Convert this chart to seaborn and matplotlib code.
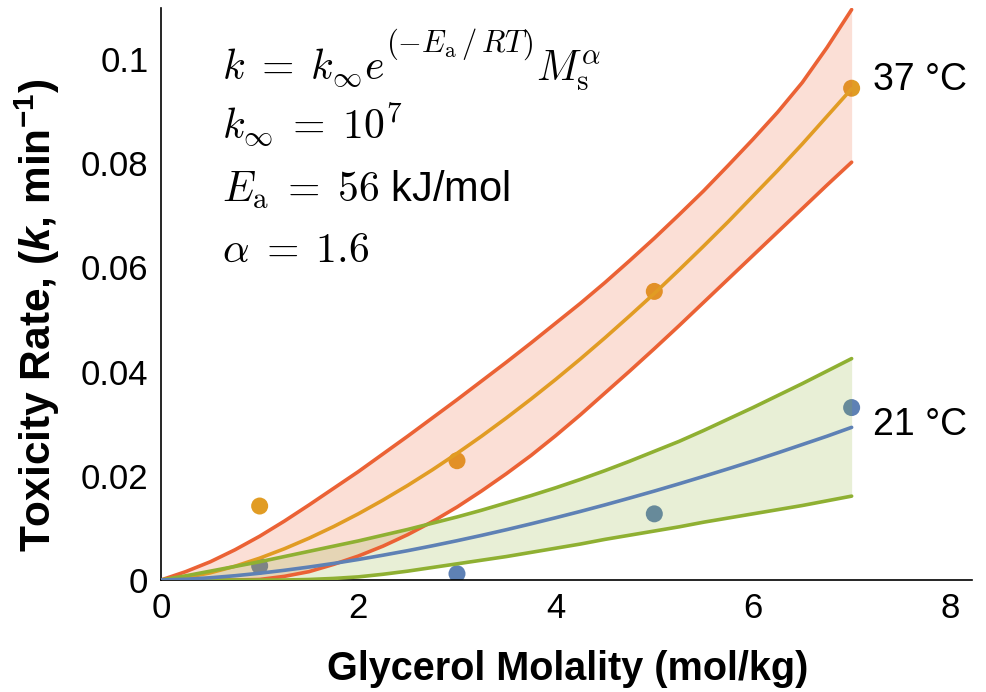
import matplotlib
matplotlib.use('Agg')
import matplotlib.pyplot as plt
import seaborn as sns

# molality grid used for the fitted curves and bands
molality = [0, 0.25, 0.5, 0.75, 1, 1.25, 1.5, 1.75, 2, 2.25, 2.5, 2.75, 3, 3.25, 3.5,
            3.75, 4, 4.25, 4.5, 4.75, 5, 5.25, 5.5, 5.75, 6, 6.25, 6.5, 6.75, 7]

# 37 C fit and band
fit_37 = [0, 0.00046, 0.00138, 0.00264, 0.00419, 0.00599, 0.00802, 0.01026, 0.0127, 0.01534, 0.01815, 0.02114, 0.0243, 0.02762, 0.0311,
          0.03473, 0.0385, 0.04242, 0.04649, 0.0507, 0.0550, 0.0595, 0.0641, 0.0688, 0.0737, 0.0786, 0.0837, 0.0890, 0.0943]
upper_37 = [0, 0.0016, 0.0035, 0.0058, 0.0084, 0.0113, 0.0144, 0.0176, 0.0208, 0.0242, 0.0276, 0.0311, 0.0346, 0.0382, 0.0418,
            0.0455, 0.0493, 0.0531, 0.0571, 0.0613, 0.0656, 0.0701, 0.0747, 0.0796, 0.0846, 0.0898, 0.0955, 0.1022, 0.1095]
lower_37 = [0, 0, 0, 0, 0.0001, 0.0007, 0.0016, 0.0030, 0.0046, 0.0065, 0.0087, 0.0112, 0.0140, 0.0171, 0.0204,
            0.0239, 0.0277, 0.0317, 0.0359, 0.0401, 0.0444, 0.0488, 0.0533, 0.0578, 0.0623, 0.0668, 0.0713, 0.0758, 0.0802]

# 21 C fit and band
fit_21 = [0, 0.00014, 0.00043, 0.00082, 0.0013, 0.00186, 0.00249, 0.00318, 0.00394, 0.00476, 0.00563, 0.00656, 0.00754, 0.00857, 0.00965,
          0.01078, 0.01195, 0.01316, 0.01442, 0.01573, 0.01707, 0.01846, 0.01989, 0.02135, 0.02285, 0.0244, 0.0260, 0.0276, 0.0293]
upper_21 = [0, 0.0008, 0.0017, 0.0026, 0.0035, 0.0045, 0.0055, 0.0065, 0.0075, 0.0086, 0.0097, 0.0109, 0.0121, 0.0134, 0.0148,
            0.0162, 0.0177, 0.0193, 0.0210, 0.0228, 0.0247, 0.0266, 0.0287, 0.0309, 0.0331, 0.0354, 0.0377, 0.0401, 0.0425]
lower_21 = [0, 0, 0, 0, 0, 0, 0.0001, 0.0003, 0.0006, 0.0011, 0.0017, 0.0024, 0.0031, 0.0038, 0.0045,
            0.0053, 0.0061, 0.0069, 0.0078, 0.0086, 0.0094, 0.0102, 0.0111, 0.0119, 0.0127, 0.0135, 0.0143, 0.0152, 0.0161]

# measured points
data_molality = [1, 3, 5, 7]
rate_37 = [0.0142, 0.0229, 0.0554, 0.0944]
rate_21 = [0.0027, 0.0012, 0.0127, 0.0331]

x_ticks = [0, 2, 4, 6, 8]
y_ticks = [0, 0.02, 0.04, 0.06, 0.08, 0.1]
y_tick_labels = ['0', '0.02', '0.04', '0.06', '0.08', '0.1']

# Mathematica default palette
blue = '#5E81B5'
orange = '#E19C24'
green = '#8FB032'
red = '#EB6235'

sns.set_theme(style='white')
plt.rcParams['font.family'] = ['Liberation Sans', 'DejaVu Sans']
plt.rcParams['text.color'] = 'black'
plt.rcParams['axes.labelcolor'] = 'black'
plt.rcParams['xtick.color'] = 'black'
plt.rcParams['ytick.color'] = 'black'
plt.rcParams['mathtext.fontset'] = 'custom'
plt.rcParams['mathtext.rm'] = 'Liberation Sans:bold'
plt.rcParams['mathtext.it'] = 'Liberation Sans:italic:bold'
plt.rcParams['mathtext.bf'] = 'Liberation Sans:bold'

fig = plt.figure(figsize=(9.87, 6.92), dpi=100)
ax = fig.add_axes([161 / 987, 1 - 580 / 692, (972 - 161) / 987, (580 - 8) / 692])

# points sit under the shaded bands
sns.scatterplot(x=data_molality, y=rate_37, color=orange, s=150, edgecolor='none', zorder=1, ax=ax)
sns.scatterplot(x=data_molality, y=rate_21, color=blue, s=150, edgecolor='none', zorder=1, ax=ax)

ax.fill_between(molality, lower_37, upper_37, color=red, alpha=0.2, lw=0, zorder=2)
ax.fill_between(molality, lower_21, upper_21, color=green, alpha=0.2, lw=0, zorder=2)

lw = 2.6
sns.lineplot(x=molality, y=upper_37, color=red, lw=lw, zorder=3, ax=ax)
sns.lineplot(x=molality, y=lower_37, color=red, lw=lw, zorder=3, ax=ax)
sns.lineplot(x=molality, y=fit_37, color=orange, lw=lw, zorder=3, ax=ax)
sns.lineplot(x=molality, y=upper_21, color=green, lw=lw, zorder=3, ax=ax)
sns.lineplot(x=molality, y=lower_21, color=green, lw=lw, zorder=3, ax=ax)
sns.lineplot(x=molality, y=fit_21, color=blue, lw=lw, zorder=3, ax=ax)

ax.set_xlim(0, 8.22)
ax.set_ylim(0, 0.1098)
ax.set_xticks(x_ticks)
ax.set_xticklabels([str(t) for t in x_ticks])
ax.set_yticks(y_ticks)
ax.set_yticklabels(y_tick_labels)
ax.tick_params(direction='in', length=7, width=1.2, labelsize=25, pad=9, colors='black')

for side in ['top', 'right']:
    ax.spines[side].set_visible(False)
for side in ['left', 'bottom']:
    ax.spines[side].set_color('black')
    ax.spines[side].set_linewidth(1.2)

# model text block; first line built from pieces so the exponent can be larger
fs = 30
t_a = ax.text(0.62, 0.0959, r'$k \;=\; k_{\infty}e$', fontsize=fs, va='baseline', math_fontfamily='cm')
fig.canvas.draw()
renderer = fig.canvas.get_renderer()


def right_edge(t):
    # right end of a text in data units
    return ax.transData.inverted().transform((t.get_window_extent(renderer).x1, 0))[0]


t_b = ax.text(right_edge(t_a) + 0.01, 0.1014, r'$(-E_{\mathrm{a}}\,/\,RT)$', fontsize=22, va='baseline', math_fontfamily='cm')
fig.canvas.draw()
ax.text(right_edge(t_b) + 0.03, 0.0959, r'$M_{\mathrm{s}}^{\alpha}$', fontsize=fs, va='baseline', math_fontfamily='cm')

ax.text(0.62, 0.0846, r'$k_{\infty} \;=\; 10^{7}$', fontsize=fs, va='baseline', math_fontfamily='cm')
ax.text(0.62, 0.0725, r'$E_{\mathrm{a}} \;=\; 56$ kJ/mol', fontsize=fs, va='baseline', math_fontfamily='cm')
ax.text(0.62, 0.0610, r'$\alpha \;=\; 1.6$', fontsize=fs, va='baseline', math_fontfamily='cm')

ax.text(7.22, 0.0959, '37 °C', fontsize=27, va='center', clip_on=False)
ax.text(7.22, 0.0297, '21 °C', fontsize=27, va='center', clip_on=False)

ax.set_xlabel('Glycerol Molality (mol/kg)', fontsize=28.5, fontweight='bold')
ax.xaxis.set_label_coords(0.502, -0.122)
ax.set_ylabel(r'Toxicity Rate, ($k$, $\mathrm{min}^{-1}$)', fontsize=30.5, fontweight='bold', math_fontfamily='custom')
ax.yaxis.set_label_coords(-0.122, 0.463)

fig.savefig('out.png', dpi=100)
